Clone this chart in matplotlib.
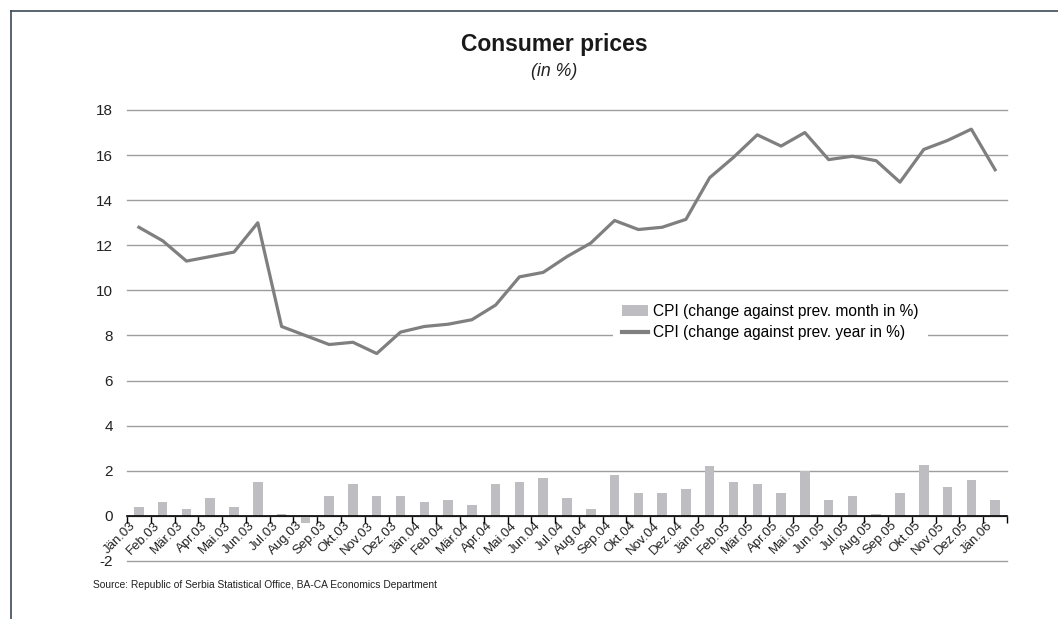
import matplotlib
matplotlib.use("Agg")
import matplotlib.pyplot as plt
from matplotlib.lines import Line2D
from matplotlib.patches import Patch
import matplotlib.transforms as mtransforms
import numpy as np

plt.rcParams['font.family'] = ['Liberation Sans', 'DejaVu Sans']
plt.rcParams['axes.unicode_minus'] = False

months = ["Jän.03", "Feb.03", "Mär.03", "Apr.03", "Mai.03", "Jun.03", "Jul.03", "Aug.03",
          "Sep.03", "Okt.03", "Nov.03", "Dez.03", "Jän.04", "Feb.04", "Mär.04", "Apr.04",
          "Mai.04", "Jun.04", "Jul.04", "Aug.04", "Sep.04", "Okt.04", "Nov.04", "Dez.04",
          "Jän.05", "Feb.05", "Mär.05", "Apr.05", "Mai.05", "Jun.05", "Jul.05", "Aug.05",
          "Sep.05", "Okt.05", "Nov.05", "Dez.05", "Jän.06"]

cpi_mom = [0.4, 0.6, 0.3, 0.8, 0.4, 1.5, 0.1, -0.3, 0.9, 1.4, 0.9, 0.9,
           0.6, 0.7, 0.5, 1.4, 1.5, 1.7, 0.8, 0.3, 1.8, 1.0, 1.0, 1.2,
           2.2, 1.5, 1.4, 1.0, 2.0, 0.7, 0.9, 0.1, 1.0, 2.25, 1.3, 1.6, 0.7]

cpi_yoy = [12.8, 12.2, 11.3, 11.5, 11.7, 13.0, 8.4, 8.0, 7.6, 7.7, 7.2, 8.15,
           8.4, 8.5, 8.7, 9.35, 10.6, 10.8, 11.5, 12.1, 13.1, 12.7, 12.8, 13.15,
           15.0, 15.9, 16.9, 16.4, 17.0, 15.8, 15.95, 15.75, 14.8, 16.25, 16.65, 17.15, 15.35]

legend_labels = ["CPI (change against prev. month in %)", "CPI (change against prev. year in %)"]

bar_color = "#BEBEC2"
line_color = "#7F7F7F"

W, H = 1058, 619
fig = plt.figure(figsize=(W / 100, H / 100), dpi=100)
ax = fig.add_axes([127 / W, 1 - 561 / H, 880 / W, 451 / H])

x = np.arange(len(months))
ax.bar(x, cpi_mom, width=0.4, color=bar_color, zorder=2)
ax.plot(x, cpi_yoy, color=line_color, lw=2.3, zorder=3)

ax.set_xlim(-0.5, len(months) - 0.5)
ax.set_ylim(-2, 18)
ax.set_yticks(np.arange(-2, 19, 2))
ax.yaxis.grid(True, color="#9E9E9E", lw=1.0, zorder=0)
for gl in ax.get_ygridlines():
    gl.set_clip_on(False)
ax.set_axisbelow(True)
ax.tick_params(axis='y', length=0, pad=10, labelsize=11, colors="#222222")

for s in ['top', 'right', 'left']:
    ax.spines[s].set_visible(False)
ax.spines['bottom'].set_position(('data', 0))
ax.spines['bottom'].set_color('black')
ax.spines['bottom'].set_linewidth(1.2)
ax.spines['bottom'].set_zorder(4)

ax.set_xticks(x)
ax.set_xticklabels(months, rotation=45, ha='right', rotation_mode='anchor', fontsize=9.5, color="#222222")
ax.set_xticks(np.arange(-0.5, len(months), 1.0), minor=True)
ax.tick_params(axis='x', which='major', length=0, pad=6)
ax.tick_params(axis='x', which='minor', length=5, width=1, color='black', direction='out')
offset = mtransforms.ScaledTranslation(-9 / 100, 5 / 100, fig.dpi_scale_trans)
for lab in ax.get_xticklabels():
    lab.set_transform(lab.get_transform() + offset)

handles = [Patch(facecolor=bar_color, edgecolor='none'),
           Line2D([0], [0], color=line_color, lw=3)]
leg = ax.legend(handles, legend_labels, loc='center', bbox_to_anchor=(0.731, 0.53),
                fontsize=11.2, frameon=True, facecolor='white', edgecolor='none', framealpha=1,
                handlelength=1.7, handletextpad=0.3, labelspacing=0.4, borderpad=0.6)
leg.get_frame().set_boxstyle('square', pad=0.0)
leg.set_zorder(5)

fig.text(554 / W, 1 - 45 / H, "Consumer prices", ha='center', va='center', fontsize=16.5,
         fontweight='bold', color="#1a1a1a")
fig.text(554 / W, 1 - 72 / H, "(in %)", ha='center', va='center', fontsize=12.8,
         style='italic', color="#222222")
fig.text(93 / W, 1 - 585 / H, "Source: Republic of Serbia Statistical Office, BA-CA Economics Department",
         ha='left', va='center', fontsize=7.4, color="#222222")

border_color = "#3C4A58"
fig.add_artist(Line2D([10.5 / W, 10.5 / W], [0, 1 - 10.5 / H], color=border_color, lw=1.2,
                      transform=fig.transFigure))
fig.add_artist(Line2D([10.5 / W, 1.0], [1 - 10.5 / H, 1 - 10.5 / H], color=border_color, lw=1.2,
                      transform=fig.transFigure))

fig.savefig("out.png", dpi=100, facecolor='white')
